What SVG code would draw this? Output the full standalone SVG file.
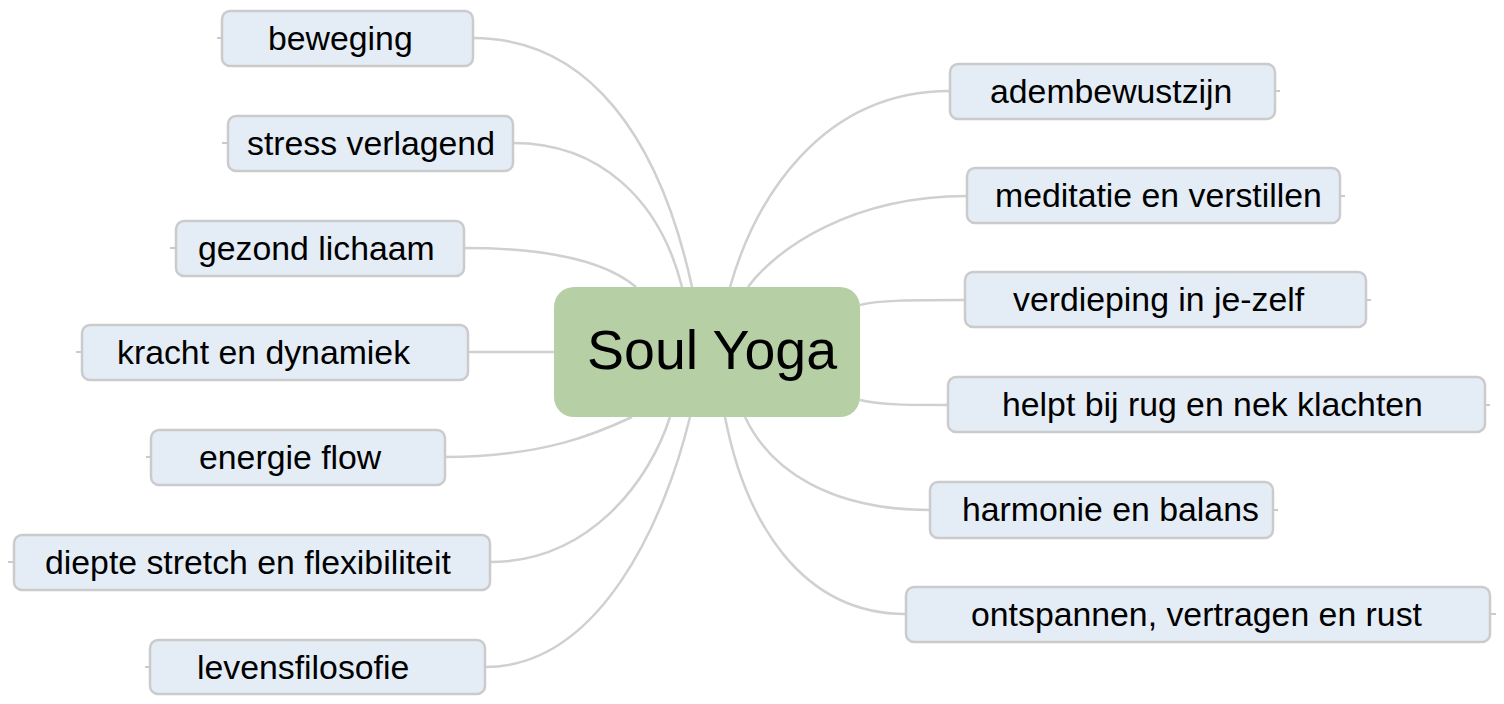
<svg xmlns="http://www.w3.org/2000/svg" width="1504" height="704" viewBox="0 0 1504 704">
<style>
.n rect{fill:#e4ecf6;stroke:#cbcbcb;stroke-width:2.5}
.n text{font-family:"Liberation Sans",Arial,sans-serif;font-size:33.8px;fill:#000}
.c path{fill:none;stroke:#d0d0d0;stroke-width:2.5}
.s{stroke:#cbcbcb;stroke-width:2}
</style>
<rect width="1504" height="704" fill="#fff"/>
<g id="connectors" class="c">
<path d="M473,38 C590,38 660,140 692,287"/>
<path d="M513,143 C600,143 660,200 682,287"/>
<path d="M464,248 C560,248 610,265 636,287"/>
<path d="M468,352 L554,352"/>
<path d="M445,457 C545,457 600,432 632,417"/>
<path d="M490,562 C590,562 650,480 670,417"/>
<path d="M485,667 C600,667 665,520 690,417"/>
<path d="M950,91 C820,91 755,200 730,287"/>
<path d="M967,196 C850,196 775,250 748,287"/>
<path d="M965,300 C910,300 880,300 860,305"/>
<path d="M948,405 C910,405 880,405 860,400"/>
<path d="M930,510 C830,510 770,470 745,417"/>
<path d="M906,614 C800,614 745,520 725,417"/>
</g>
<g id="center">
<rect x="554" y="287" width="306" height="130" rx="20" fill="#b6cfa5"/>
<text x="587" y="369" font-family="Liberation Sans,Arial,sans-serif" font-size="55.5" fill="#000">Soul Yoga</text>
</g>
<g id="n1" class="n"><line class="s" x1="217" y1="38" x2="222" y2="38"/><rect x="222" y="11" width="251" height="55" rx="8"/><text x="268" y="50">beweging</text></g>
<g id="n2" class="n"><line class="s" x1="222" y1="143" x2="228" y2="143"/><rect x="228" y="116" width="285" height="55" rx="8"/><text x="247" y="155">stress verlagend</text></g>
<g id="n3" class="n"><line class="s" x1="170" y1="248" x2="176" y2="248"/><rect x="176" y="221" width="288" height="55" rx="8"/><text x="198" y="260">gezond lichaam</text></g>
<g id="n4" class="n"><line class="s" x1="76" y1="352" x2="82" y2="352"/><rect x="82" y="325" width="386" height="55" rx="8"/><text x="117" y="364">kracht en dynamiek</text></g>
<g id="n5" class="n"><line class="s" x1="146" y1="457" x2="151" y2="457"/><rect x="151" y="430" width="294" height="55" rx="8"/><text x="199" y="469">energie flow</text></g>
<g id="n6" class="n"><line class="s" x1="8" y1="562" x2="14" y2="562"/><rect x="14" y="535" width="476" height="55" rx="8"/><text x="45" y="574">diepte stretch en flexibiliteit</text></g>
<g id="n7" class="n"><line class="s" x1="145" y1="667" x2="150" y2="667"/><rect x="150" y="640" width="335" height="54" rx="8"/><text x="197" y="679">levensfilosofie</text></g>
<g id="n8" class="n"><line class="s" x1="1275" y1="91" x2="1280" y2="91"/><rect x="950" y="64" width="325" height="55" rx="8"/><text x="990" y="103">adembewustzijn</text></g>
<g id="n9" class="n"><line class="s" x1="1340" y1="196" x2="1345" y2="196"/><rect x="967" y="168" width="373" height="55" rx="8"/><text x="995" y="207">meditatie en verstillen</text></g>
<g id="n10" class="n"><line class="s" x1="1366" y1="300" x2="1371" y2="300"/><rect x="965" y="272" width="401" height="55" rx="8"/><text x="1013" y="311">verdieping in je-zelf</text></g>
<g id="n11" class="n"><line class="s" x1="1485" y1="405" x2="1490" y2="405"/><rect x="948" y="377" width="537" height="55" rx="8"/><text x="1002" y="416">helpt bij rug en nek klachten</text></g>
<g id="n12" class="n"><line class="s" x1="1273" y1="510" x2="1278" y2="510"/><rect x="930" y="482" width="343" height="56" rx="8"/><text x="962" y="521">harmonie en balans</text></g>
<g id="n13" class="n"><line class="s" x1="1490" y1="614" x2="1496" y2="614"/><rect x="906" y="587" width="584" height="55" rx="8"/><text x="971" y="626">ontspannen, vertragen en rust</text></g>
</svg>
